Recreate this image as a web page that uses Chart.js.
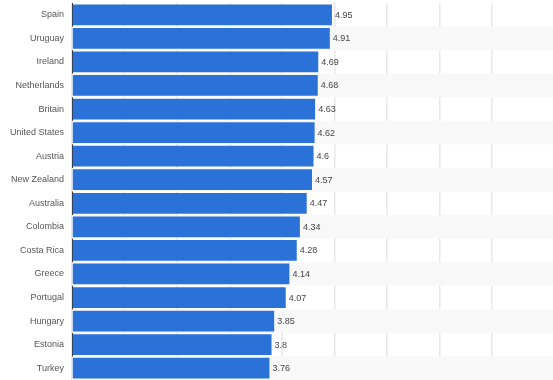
<!DOCTYPE html>
<html>
<head>
<meta charset="utf-8">
<script src="https://cdn.jsdelivr.net/npm/chart.js@4/dist/chart.umd.min.js"></script>
<style>
html,body{margin:0;padding:0;background:#fff;overflow:hidden;}
#wrap{width:553px;height:380px;position:relative;}
</style>
</head>
<body>
<div id="wrap"><canvas id="c" width="553" height="380"></canvas></div>
<script>
const categories = ["Spain","Uruguay","Ireland","Netherlands","Britain","United States","Austria","New Zealand","Australia","Colombia","Costa Rica","Greece","Portugal","Hungary","Estonia","Turkey"];
const values = [4.95,4.91,4.69,4.68,4.63,4.62,4.6,4.57,4.47,4.34,4.28,4.14,4.07,3.85,3.8,3.76];
const valueLabels = ["4.95","4.91","4.69","4.68","4.63","4.62","4.6","4.57","4.47","4.34","4.28","4.14","4.07","3.85","3.8","3.76"];
const xMin = 0;
const xMax = 9.16;

const FONT = "'Liberation Sans', Arial, sans-serif";

const stripes = {
  id: 'stripes',
  beforeDatasetsDraw(chart) {
    const {ctx, chartArea, scales} = chart;
    const y = scales.y;
    const n = categories.length;
    const band = (chartArea.bottom - chartArea.top) / n;
    ctx.save();
    ctx.fillStyle = '#f8f8f8';
    for (let i = 0; i < n; i++) {
      if (i % 2 === 1) {
        const cy = y.getPixelForValue(i);
        ctx.fillRect(chartArea.left, cy - band / 2, chartArea.right - chartArea.left, band);
      }
    }
    ctx.restore();
  }
};

const valueText = {
  id: 'valueText',
  afterDatasetsDraw(chart) {
    const {ctx} = chart;
    const meta = chart.getDatasetMeta(0);
    ctx.save();
    ctx.font = '9px ' + FONT;
    ctx.fillStyle = '#444';
    ctx.textAlign = 'left';
    ctx.textBaseline = 'middle';
    meta.data.forEach((bar, i) => {
      ctx.fillText(valueLabels[i], bar.x + 3, bar.y + 0.5);
    });
    ctx.restore();
  }
};

new Chart(document.getElementById('c'), {
  type: 'bar',
  data: {
    labels: categories,
    datasets: [{
      data: values,
      backgroundColor: '#2a72d8',
      borderWidth: 0,
      barPercentage: 0.88,
      categoryPercentage: 1
    }]
  },
  options: {
    indexAxis: 'y',
    responsive: false,
    animation: false,
    events: [],
    layout: {padding: {top: 3, right: 0, bottom: 0, left: 0}},
    plugins: {legend: {display: false}, tooltip: {enabled: false}},
    scales: {
      x: {
        min: xMin,
        max: xMax,
        ticks: {display: false, stepSize: 1},
        afterBuildTicks(axis) { axis.ticks = axis.ticks.filter(t => Number.isInteger(t.value)); },
        afterFit(s) { s.height = 0; s.paddingLeft = 0; s.paddingRight = 0; },
        grid: {color: '#e8e8e8', lineWidth: 1.5, drawTicks: false},
        border: {display: false}
      },
      y: {
        afterFit(s) { s.width = 72; s.paddingTop = 0; s.paddingBottom = 0; },
        grid: {display: false, drawTicks: false},
        border: {display: true, color: '#333', width: 1},
        ticks: {
          font: {family: FONT, size: 9},
          color: '#555',
          padding: 8
        }
      }
    }
  },
  plugins: [stripes, valueText]
});
</script>
</body>
</html>
